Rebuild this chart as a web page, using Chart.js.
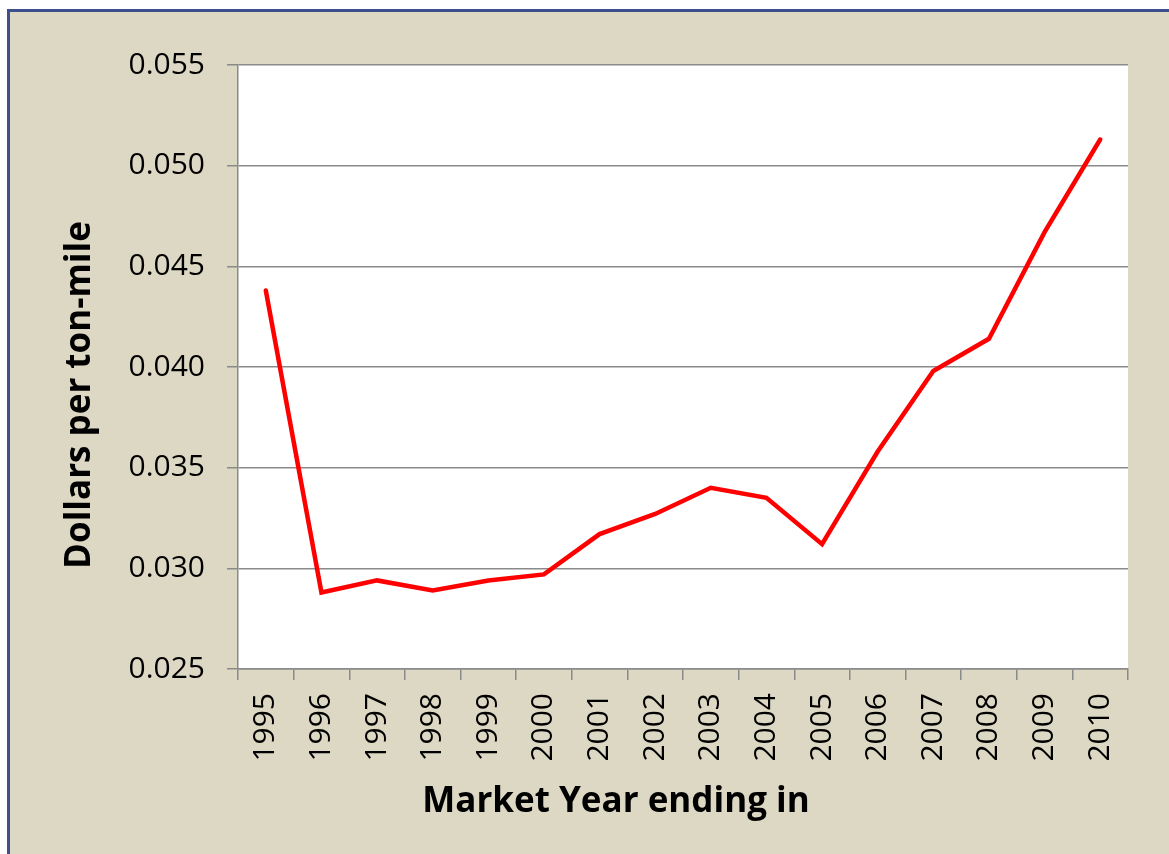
<!DOCTYPE html>
<html>
<head>
<meta charset="utf-8">
<script src="https://cdn.jsdelivr.net/npm/chart.js@4.4.1/dist/chart.umd.min.js"></script>
<style>
  html, body { margin: 0; padding: 0; background: #ffffff; }
  #frame {
    position: absolute; left: 7px; top: 9px; width: 1180px; height: 870px;
    background: #ddd8c3; border-left: 3px solid #3d4f8c; border-top: 3px solid #3d4f8c;
  }
  #wrap { position: absolute; left: 0; top: 0; width: 1169px; height: 854px; }
</style>
</head>
<body>
<div id="frame"></div>
<div id="wrap"><canvas id="chart" width="1169" height="854"></canvas></div>
<script>
// Market year ending in
const years = ['1995', '1996', '1997', '1998', '1999', '2000', '2001', '2002',
               '2003', '2004', '2005', '2006', '2007', '2008', '2009', '2010'];
// Dollars per ton-mile
const costPerTonMile = [0.0438, 0.0288, 0.0294, 0.0289, 0.0294, 0.0297, 0.0317, 0.0327,
                        0.0340, 0.0335, 0.0312, 0.0358, 0.0398, 0.0414, 0.0467, 0.0513];
const yMin = 0.025, yMax = 0.055, yStep = 0.005;

const gridColor = '#8a8a8a';
const tickFont = { family: '"Open Sans", sans-serif', size: 30 };
const titleFont = { family: '"Open Sans", sans-serif', size: 35, weight: 'bold' };

// white plot area + axis titles placed like the original
const plotBg = {
    id: 'plotBg',
    beforeDraw(chart) {
        const { ctx, chartArea: a } = chart;
        ctx.save();
        ctx.fillStyle = '#ffffff';
        ctx.fillRect(a.left, a.top, a.right - a.left, a.bottom - a.top);
        ctx.restore();
    },
    afterDraw(chart) {
        const { ctx } = chart;
        ctx.save();
        ctx.fillStyle = '#000000';
        ctx.font = `bold ${titleFont.size}px ${titleFont.family}`;
        ctx.textAlign = 'center';
        ctx.textBaseline = 'middle';
        ctx.fillText('Market Year ending in', 616, 802);
        ctx.translate(80, 395);
        ctx.rotate(-Math.PI / 2);
        ctx.fillText('Dollars per ton-mile', 0, 0);
        ctx.restore();
    }
};

const ctx = document.getElementById('chart').getContext('2d');
new Chart(ctx, {
    type: 'line',
    data: {
        labels: years,
        datasets: [{
            data: costPerTonMile,
            borderColor: '#ff0000',
            borderWidth: 4.5,
            borderCapStyle: 'round',
            borderJoinStyle: 'miter',
            pointRadius: 0,
            tension: 0,
            fill: false
        }]
    },
    options: {
        responsive: false,
        animation: false,
        layout: { padding: { left: 0, top: 65, right: 41, bottom: 0 } },
        plugins: { legend: { display: false }, tooltip: { enabled: false } },
        scales: {
            x: {
                offset: true,
                grid: { display: true, offset: true, drawOnChartArea: false, color: gridColor, lineWidth: 1.5, tickLength: 11 },
                border: { display: true, color: gridColor, width: 1.5 },
                ticks: { color: '#000', font: tickFont, minRotation: 90, maxRotation: 90, padding: 13, autoSkip: false },
                afterFit(scale) { scale.height = 185; }
            },
            y: {
                min: yMin,
                max: yMax,
                grid: { color: gridColor, lineWidth: 1.5, tickLength: 11 },
                border: { display: true, color: gridColor, width: 1.5 },
                ticks: {
                    stepSize: yStep, color: '#000', font: tickFont, padding: 22,
                    callback: (v) => v.toFixed(3)
                },
                afterFit(scale) { scale.width = 238; }
            }
        }
    },
    plugins: [plotBg]
});
</script>
</body>
</html>
